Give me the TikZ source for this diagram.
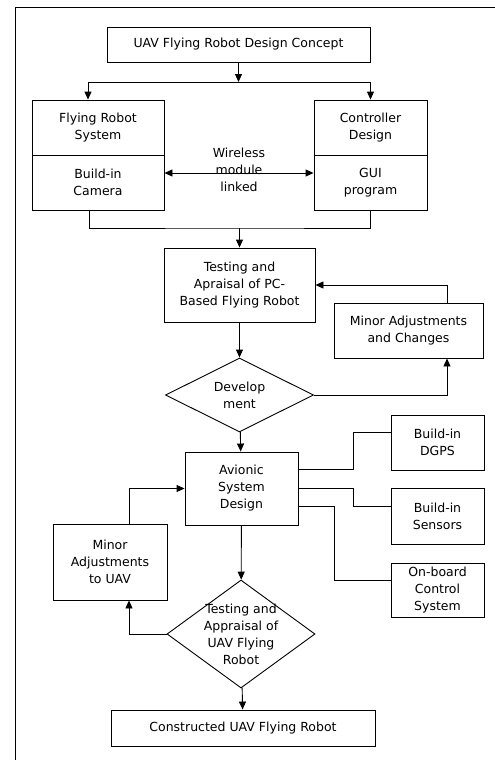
\documentclass[tikz,border=0pt]{standalone}
\usepackage{fontspec}
\setmainfont{DejaVu Sans}
\usetikzlibrary{arrows.meta,shapes.geometric}
\tikzset{
	box/.style={draw, rectangle, align=center, inner sep=0pt},
	decision/.style={draw, diamond, inner sep=0pt},
	arr/.style={-{Triangle[length=8pt,width=7pt]}},
	dblarr/.style={{Triangle[length=8pt,width=7pt]}-{Triangle[length=8pt,width=7pt]}}
}
\begin{document}
\begin{tikzpicture}[x=1pt, y=-1pt, line width=0.9pt, font=\fontsize{12.5}{17}\selectfont]
	\useasboundingbox (0,0) rectangle (495,760);
	\draw (15,760)--(15,7)--(495,7);

	\node[box, minimum width=263, minimum height=35] (concept) at (238.5, 44.5) {UAV Flying Robot Design Concept};
	\node[box, minimum width=132, minimum height=55] (frsTop) at (98, 127.5) {Flying Robot\\System};
	\node[box, minimum width=132, minimum height=55] (frsBot) at (98, 182.5) {Build-in\\Camera};
	\node[box, minimum width=113, minimum height=55] (ctrlTop) at (370.5, 127.5) {Controller\\Design};
	\node[box, minimum width=113, minimum height=55] (ctrlBot) at (370.5, 182.5) {GUI\\program};
	\node[align=center] (wireless) at (239, 170) {Wireless\\module\\linked};
	\node[box, minimum width=151, minimum height=74] (test1) at (239.5, 285) {Testing and\\Apraisal of PC-\\Based Flying Robot};
	\node[decision, minimum width=148, minimum height=74, label={[align=center]center:Develop\\ment}] (dev) at (239.5, 395) {};
	\node[box, minimum width=149, minimum height=55] (minorA) at (408.5, 330.5) {Minor Adjustments\\and Changes};
	\node[box, minimum width=113, minimum height=73] (avionic) at (241.5, 488.5) {Avionic\\System\\Design};
	\node[box, minimum width=93, minimum height=55] (dgps) at (437.5, 442.5) {Build-in\\DGPS};
	\node[box, minimum width=93, minimum height=56] (sensors) at (437.5, 516) {Build-in\\Sensors};
	\node[box, minimum width=93, minimum height=54] (onboard) at (437.5, 590) {On-board\\Control\\System};
	\node[box, minimum width=114, minimum height=76] (minorU) at (110, 562) {Minor\\Adjustments\\to UAV};
	\node[decision, minimum width=148, minimum height=108, label={[align=center]center:Testing and\\Appraisal of\\UAV Flying\\Robot}] (dg2) at (241, 634) {};
	\node[box, minimum width=264, minimum height=36] (final) at (243, 728) {Constructed UAV Flying Robot};

	\coordinate (fork) at (238.5, 82);
	\coordinate (merge) at (239.5, 228);
	\draw[arr] (concept)--(fork);
	\draw[arr] (fork) -| ([xshift=-10pt]frsTop.north);
	\draw[arr] (fork) -| (ctrlTop.north);
	\draw[dblarr] ([yshift=9.5pt]frsBot.east)--([yshift=9.5pt]ctrlBot.west);
	\draw ([xshift=-9pt]frsBot.south) |- (merge) -| (ctrlBot.south);
	\draw[arr] (merge)--(test1);
	\draw[arr] (test1)--(dev);
	\draw[arr] (dev.east) -| ([xshift=38.5pt]minorA.south);
	\draw[arr] ([xshift=38.5pt]minorA.north) |- (test1.east);
	\draw[arr] (dev)--(avionic);
	\draw ([yshift=19.5pt]avionic.east) -- ++(55,0) |- ([yshift=10.5pt]dgps.west);
	\draw (avionic.east) -- ++(55,0) |- ([yshift=10pt]sensors.west);
	\draw ([yshift=-17.5pt]avionic.east) -- ++(36,0) |- ([yshift=10pt]onboard.west);
	\draw[arr] (avionic)--(dg2);
	\draw[arr] (dg2.west) -| ([xshift=19pt]minorU.south);
	\draw[arr] ([xshift=19pt]minorU.north) |- (avionic.west);
	\draw[arr] (dg2)--(final);
\end{tikzpicture}
\end{document}
